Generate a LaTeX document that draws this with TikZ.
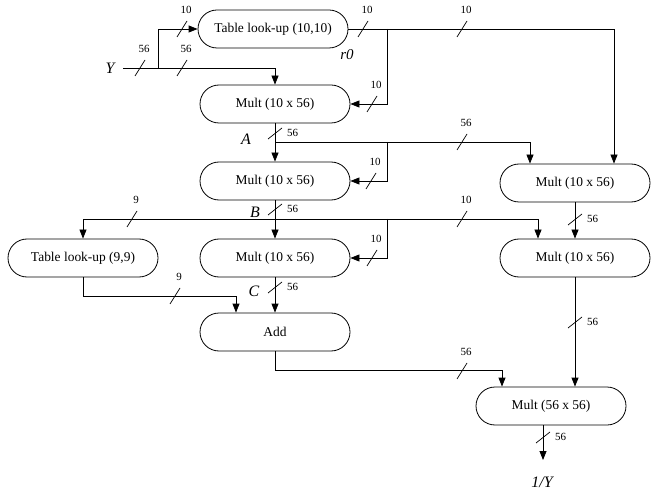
\documentclass[tikz,border=0pt]{standalone}
\usepackage{fontspec}
\setmainfont{Liberation Serif}
\usetikzlibrary{shapes.misc,arrows.meta}
\tikzset{
  blk/.style={draw, rounded rectangle, minimum width=150bp, minimum height=38bp, inner sep=0pt, font=\fontsize{13.5}{16}\selectfont, line width=0.8bp},
  wire/.style={line width=0.8bp},
  arr/.style={wire, -{Triangle[length=9bp,width=7bp]}},
  slash/.style={line width=0.7bp},
  bl/.style={font=\fontsize{11}{13}\selectfont, inner sep=0pt},
  sig/.style={font=\fontsize{16}{18}\selectfont\itshape, inner sep=0pt},
}
\newcommand\hbus[4]{\draw[slash] (#2-5,#3+8) -- (#2+5,#3-8); \node[bl] (#1) at (#2+4,#3-19) {#4};}
\newcommand\vbus[4]{\draw[slash] (#2-7,#3+5) -- (#2+7,#3-6); \node[bl,anchor=west] (#1) at (#2+12,#3-1) {#4};}
\begin{document}
\begin{tikzpicture}[x=1bp,y=-1bp]
\useasboundingbox (0,0) rectangle (651,492);
% blocks
\node[blk] (T1) at (273,29) {Table look-up (10,10)};
\node[blk] (M1) at (275,104) {Mult (10 x 56)};
\node[blk] (M2) at (275,181) {Mult (10 x 56)};
\node[blk] (TL2) at (83,258) {Table look-up (9,9)};
\node[blk] (M3) at (275,258) {Mult (10 x 56)};
\node[blk] (Add) at (275,332) {Add};
\node[blk] (M4) at (575,183) {Mult (10 x 56)};
\node[blk] (M5) at (575,258) {Mult (10 x 56)};
\node[blk] (M6) at (551,406) {Mult (56 x 56)};
% signal labels
\node[sig] (Y) at (110,68) {Y};
\node[sig,font=\fontsize{15}{17}\selectfont\itshape] (r0) at (347,55) {r0};
\node[sig] (A) at (246,139) {A};
\node[sig] (B) at (255,212) {B};
\node[sig] (C) at (254,291) {C};
\node[sig] (inv) at (542,482) {1/Y};
% junction coordinates
\coordinate (yin) at (123,68);
\coordinate (yb) at (158,68);
\coordinate (r0j) at (387,29);
\coordinate (Aj) at (275,142);
\coordinate (Ak) at (387,142);
\coordinate (Bj) at (275,219);
\coordinate (Bk) at (387,219);
\coordinate (out) at (543,460);
% connectors
\draw[arr] (yin) -| (M1.north);
\draw[arr] (yb) |- (T1.west);
\draw[arr] (T1.east) -| ([xshift=39bp]M4.north);
\draw[arr] (r0j) |- (M1.east);
\draw[arr] (M1.south) -- (M2.north);
\draw[arr] (Aj) -| ([xshift=-45bp]M4.north);
\draw[arr] (Ak) |- (M2.east);
\draw[arr] (M2.south) -- (M3.north);
\draw[arr] (Bj) -| (TL2.north);
\draw[arr] (Bj) -| ([xshift=-37bp]M5.north);
\draw[arr] (Bk) |- (M3.east);
\draw[arr] (M4.south) -- (M5.north);
\draw[arr] (M5.south) -- (M5.south |- M6.north);
\draw[arr] (TL2.south) -- ++(0,19) -| ([xshift=-39bp]Add.north);
\draw[arr] (M3.south) -- (Add.north);
\draw[arr] (Add.south) -- ++(0,19) -| ([xshift=-49bp]M6.north);
\draw[arr] (M6.south -| out) -- (out);
% bus width marks
\hbus{b1}{140}{68}{56}
\hbus{b2}{182}{68}{56}
\hbus{b3}{182}{29}{10}
\hbus{b4}{363}{29}{10}
\hbus{b5}{462}{29}{10}
\hbus{b6}{372}{104}{10}
\hbus{b7}{462}{142}{56}
\hbus{b8}{371}{181}{10}
\hbus{b9}{132}{219}{9}
\hbus{b10}{462}{219}{10}
\hbus{b11}{372}{258}{10}
\hbus{b12}{175}{296}{9}
\hbus{b13}{462}{371}{56}
\vbus{v1}{275}{134}{56}
\vbus{v2}{275}{210}{56}
\vbus{v3}{275}{288}{56}
\vbus{v4}{575}{220}{56}
\vbus{v5}{575}{323}{56}
\vbus{v6}{543}{438}{56}
\end{tikzpicture}
\end{document}
